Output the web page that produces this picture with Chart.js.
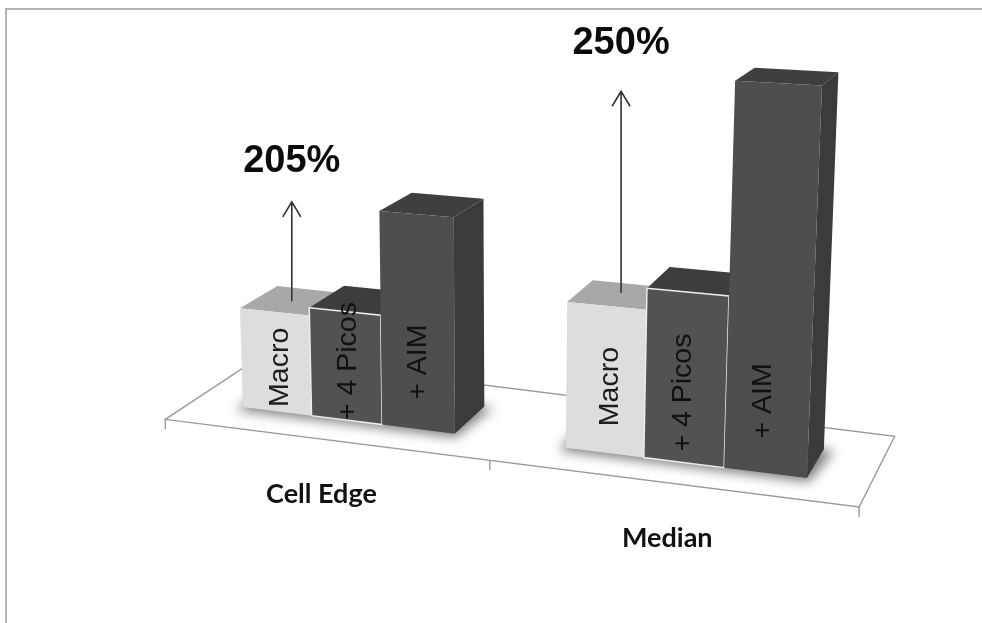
<!DOCTYPE html>
<html>
<head>
<meta charset="utf-8">
<style>
  html, body { margin: 0; padding: 0; background: #fff; }
  canvas { display: block; }
</style>
<script src="https://cdn.jsdelivr.net/npm/chart.js@4"></script>
</head>
<body>
<canvas id="gain-chart" width="982" height="623"></canvas>
<script>
// Throughput by scheme, one group per user position
const categories = ['Cell Edge', 'Median'];
const schemes = ['Macro', '+ 4 Picos', '+ AIM'];
const macroValues = [28.8, 39.8];
const picosValues = [31, 45.5];
const aimValues = [59.8, 100];
const gainLabels = ['205%', '250%'];
const gainArrowTops = [57.4, 93.5];

// Front plane of the bars: corners of the chart area on the page
const planeCorners = [[193.4, 400.8], [869.7, 486], [888, 89], [181, 50.5]];
const FLOOR_FRONT = -0.72;
const FLOOR_BACK = 1.7;

const barStyles = [
    { front: '#dddddd', top: '#a8a8a8', side: '#8c8c8c', text: '#1c1c1c', edge: null },
    { front: '#525252', top: '#3d3d3d', side: '#3a3a3a', text: '#111111', edge: '#ececec' },
    { front: '#4e4e4e', top: '#3f3f3f', side: '#3b3b3b', text: '#111111', edge: null }
];
// Rotated names: lift above each bar's foot and sideways nudge, per group
const nameLifts = [[44, 59, 67], [66, 70, 72]];
const nameShifts = [[3, 2, 0], [6, -1, -2]];
// Gain arrows stand this far back on the Macro top face
const arrowDepths = [0.48, 0.6];
const gainLabelLifts = [40, 48];

function makeProjection(corners) {
    const [[x0, y0], [x1, y1], [x2, y2], [x3, y3]] = corners;
    const dx1 = x1 - x2, dx2 = x3 - x2, dy1 = y1 - y2, dy2 = y3 - y2;
    const sx = x0 - x1 + x2 - x3, sy = y0 - y1 + y2 - y3;
    const det = dx1 * dy2 - dx2 * dy1;
    const g = (sx * dy2 - dx2 * sy) / det;
    const h = (dx1 * sy - sx * dy1) / det;
    const a = x1 - x0 + g * x1, b = x3 - x0 + h * x3;
    const d = y1 - y0 + g * y1, e = y3 - y0 + h * y3;
    return (s, t) => {
        const w = g * s + h * t + 1;
        return [(a * s + b * t + x0) / w, (d * s + e * t + y0) / w];
    };
}
const toPlane = makeProjection(planeCorners);

// chart pixel + depth -> page pixel
function project(chart, px, py, depth = 0) {
    const area = chart.chartArea;
    const [x, y] = toPlane((px - area.left) / area.width, (area.bottom - py) / area.height);
    return [x + depth * (46 - 0.036 * x), y - depth * (13 + (y - 81) * 0.04)];
}

function fillPoly(ctx, points, color) {
    ctx.beginPath();
    points.forEach((p, i) => (i ? ctx.lineTo(p[0], p[1]) : ctx.moveTo(p[0], p[1])));
    ctx.closePath();
    ctx.fillStyle = color;
    ctx.fill();
}

function drawFloor(chart, ctx) {
    const area = chart.chartArea;
    const y0 = area.bottom;
    const frontL = project(chart, area.left, y0, FLOOR_FRONT);
    const frontR = project(chart, area.right, y0, FLOOR_FRONT);
    const backL = project(chart, area.left, y0, FLOOR_BACK);
    const backR = project(chart, area.right, y0, FLOOR_BACK);
    const mid = project(chart, (area.left + area.right) / 2, y0, FLOOR_FRONT);

    ctx.strokeStyle = '#9a9a9a';
    ctx.lineWidth = 1.4;
    ctx.beginPath();
    ctx.moveTo(frontL[0], frontL[1]);
    ctx.lineTo(frontR[0], frontR[1]);
    ctx.lineTo(backR[0], backR[1]);
    ctx.lineTo(backL[0], backL[1]);
    ctx.closePath();
    [frontL, mid, frontR].forEach(p => {
        ctx.moveTo(p[0], p[1]);
        ctx.lineTo(p[0], p[1] + 10);
    });
    ctx.stroke();
}

function drawBar(chart, ctx, bar, style) {
    const left = bar.x - bar.width / 2;
    const right = bar.x + bar.width / 2;
    const fl = project(chart, left, bar.y);
    const fr = project(chart, right, bar.y);
    const bl = project(chart, left, bar.base);
    const br = project(chart, right, bar.base);
    const backL = project(chart, left, bar.y, 1);
    const backR = project(chart, right, bar.y, 1);
    const footR = project(chart, right, bar.base, 1);

    fillPoly(ctx, [fr, backR, footR, br], style.side);
    fillPoly(ctx, [fl, backL, backR, fr], style.top);
    fillPoly(ctx, [fl, fr, br, bl], style.front);
    if (style.edge) {
        ctx.strokeStyle = style.edge;
        ctx.lineWidth = 1.5;
        ctx.stroke();
    }
}

function drawShadow(chart, ctx, bars) {
    const first = bars[0], last = bars[bars.length - 1];
    const left = first.x - first.width / 2, right = last.x + last.width / 2;
    const base = first.base;
    ctx.save();
    ctx.filter = 'blur(6px)';
    fillPoly(ctx, [
        project(chart, left - 6, base + 1, -0.1),
        project(chart, right + 5, base + 1, -0.1),
        project(chart, right + 14, base, 1),
        project(chart, left - 6, base, 1)
    ], 'rgba(0,0,0,0.5)');
    ctx.restore();
}

function drawName(ctx, text, x, y, color) {
    ctx.save();
    ctx.translate(x, y);
    ctx.rotate(-Math.PI / 2);
    ctx.font = '28.5px "Liberation Sans"';
    ctx.textAlign = 'center';
    ctx.textBaseline = 'middle';
    ctx.fillStyle = color;
    ctx.fillText(text, 0, 0);
    ctx.restore();
}

function drawGainArrow(chart, ctx, bar, groupIndex) {
    const yScale = chart.scales.y;
    const depth = arrowDepths[groupIndex];
    const foot = project(chart, bar.x, bar.y, depth);
    const tip = project(chart, bar.x, yScale.getPixelForValue(gainArrowTops[groupIndex]), depth);
    const x = foot[0];
    ctx.strokeStyle = '#333333';
    ctx.lineWidth = 1.6;
    ctx.beginPath();
    ctx.moveTo(x, foot[1]);
    ctx.lineTo(x, tip[1]);
    ctx.moveTo(x - 9, tip[1] + 15);
    ctx.lineTo(x, tip[1]);
    ctx.lineTo(x + 9, tip[1] + 15);
    ctx.stroke();

    ctx.font = 'bold 38px "Liberation Sans"';
    ctx.textAlign = 'center';
    ctx.textBaseline = 'middle';
    ctx.fillStyle = '#0c0c0c';
    ctx.fillText(gainLabels[groupIndex], x, tip[1] - gainLabelLifts[groupIndex]);
}

const projectedBars = {
    id: 'projectedBars',
    beforeDraw(chart) {
        const ctx = chart.ctx;
        ctx.fillStyle = '#ffffff';
        ctx.fillRect(0, 0, chart.width, chart.height);
        // frame line along the top and left
        ctx.strokeStyle = '#b4b4b4';
        ctx.lineWidth = 2;
        ctx.beginPath();
        ctx.moveTo(6, chart.height);
        ctx.lineTo(6, 9);
        ctx.lineTo(chart.width, 9);
        ctx.stroke();
    },
    beforeDatasetsDraw(chart) {
        const ctx = chart.ctx;
        drawFloor(chart, ctx);

        categories.forEach((label, groupIndex) => {
            const bars = schemes.map((_, i) => chart.getDatasetMeta(i).data[groupIndex]);
            drawShadow(chart, ctx, bars);
            bars.forEach((bar, i) => drawBar(chart, ctx, bar, barStyles[i]));
            bars.forEach((bar, i) => {
                const foot = project(chart, bar.x, bar.base);
                drawName(ctx, schemes[i], foot[0] + nameShifts[groupIndex][i],
                    foot[1] - nameLifts[groupIndex][i], barStyles[i].text);
            });
            drawGainArrow(chart, ctx, bars[0], groupIndex);

            // category name below the floor edge
            const xPos = chart.scales.x.getPixelForValue(groupIndex);
            const under = project(chart, xPos, chart.chartArea.bottom, FLOOR_FRONT);
            ctx.font = 'bold 27px Lato';
            ctx.textAlign = 'center';
            ctx.textBaseline = 'middle';
            ctx.fillStyle = '#111111';
            ctx.fillText(label, under[0] - 1, under[1] + 55);
        });
        return false;
    }
};

new Chart(document.getElementById('gain-chart'), {
    type: 'bar',
    data: {
        labels: categories,
        datasets: [
            { label: schemes[0], data: macroValues },
            { label: schemes[1], data: picosValues },
            { label: schemes[2], data: aimValues }
        ]
    },
    options: {
        responsive: false,
        animation: false,
        datasets: { bar: { categoryPercentage: 0.67, barPercentage: 1 } },
        plugins: { legend: { display: false }, tooltip: { enabled: false } },
        scales: {
            x: { display: false },
            y: { display: false, min: 0, max: 100 }
        }
    },
    plugins: [projectedBars]
});
</script>
</body>
</html>
